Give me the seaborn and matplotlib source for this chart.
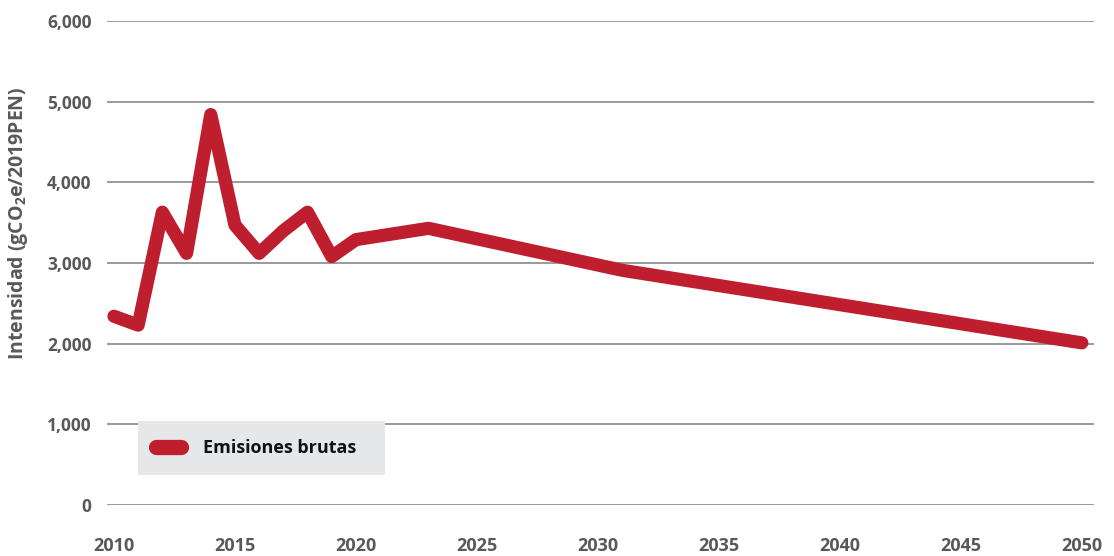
import matplotlib
matplotlib.use('Agg')
import matplotlib.pyplot as plt
import matplotlib.ticker as mticker
import seaborn as sns
import pandas as pd

# Daten
years = [2010, 2011, 2012, 2013, 2014, 2015, 2016, 2017, 2018, 2019, 2020, 2023, 2031, 2050]
intensidad = [2340, 2230, 3630, 3120, 4840, 3470, 3120, 3400, 3630, 3080, 3290, 3430, 2910, 2010]
serie = 'Emisiones brutas'
x_ticks = [2010, 2015, 2020, 2025, 2030, 2035, 2040, 2045, 2050]
y_ticks = [0, 1000, 2000, 3000, 4000, 5000, 6000]

df = pd.DataFrame({'year': years, 'valor': intensidad, 'serie': serie})

sns.set_style('white')
plt.rcParams['font.family'] = ['Open Sans', 'DejaVu Sans']
plt.rcParams['font.weight'] = 'bold'
plt.rcParams['mathtext.fontset'] = 'custom'
plt.rcParams['mathtext.rm'] = 'Open Sans:bold'
plt.rcParams['mathtext.default'] = 'rm'

rojo = '#be1e2d'
gris_texto = '#58595b'

fig = plt.figure(figsize=(11.14, 5.56), dpi=100)
ax = fig.add_axes([0.096, 0.0917, 0.886, 0.8705])

sns.lineplot(data=df, x='year', y='valor', hue='serie', palette=[rojo], ax=ax,
             linewidth=9.5, solid_capstyle='round', solid_joinstyle='round')

ax.set_xlim(2009.71, 2050.5)
ax.set_ylim(0, 6000)
ax.set_xticks(x_ticks)
ax.set_yticks(y_ticks)
ax.yaxis.set_major_formatter(mticker.StrMethodFormatter('{x:,.0f}'))

# Gitterlinien nur horizontal
ax.grid(axis='y', color='#9a9a9a', linewidth=1.4)
ax.grid(axis='x', visible=False)
ax.set_axisbelow(True)
for spine in ax.spines.values():
    spine.set_visible(False)

ax.tick_params(axis='x', length=0, pad=23, labelsize=13, labelcolor=gris_texto)
ax.tick_params(axis='y', length=0, pad=11, labelsize=12.5, labelcolor=gris_texto)

ax.set_xlabel('')
ax.set_ylabel('Intensidad (gCO$_2$e/2019PEN)', fontsize=14, color=gris_texto, fontweight='bold')
ax.yaxis.set_label_coords(-0.078, 0.583)

# Legende mit grauem Kasten
leg = ax.legend(loc='lower left', bbox_to_anchor=(0.0314, 0.062, 0.2503, 0.124),
                mode='expand', borderaxespad=0, frameon=True, fancybox=False,
                facecolor='#e6e7e8', edgecolor='none', framealpha=1,
                fontsize=13, handlelength=1.4, handletextpad=1.2, borderpad=1.0)
for line in leg.get_lines():
    line.set_linewidth(11)
    line.set_solid_capstyle('round')
for text in leg.get_texts():
    text.set_color('#111111')
    text.set_fontweight('bold')

plt.savefig('out.png', dpi=100)
plt.close()
